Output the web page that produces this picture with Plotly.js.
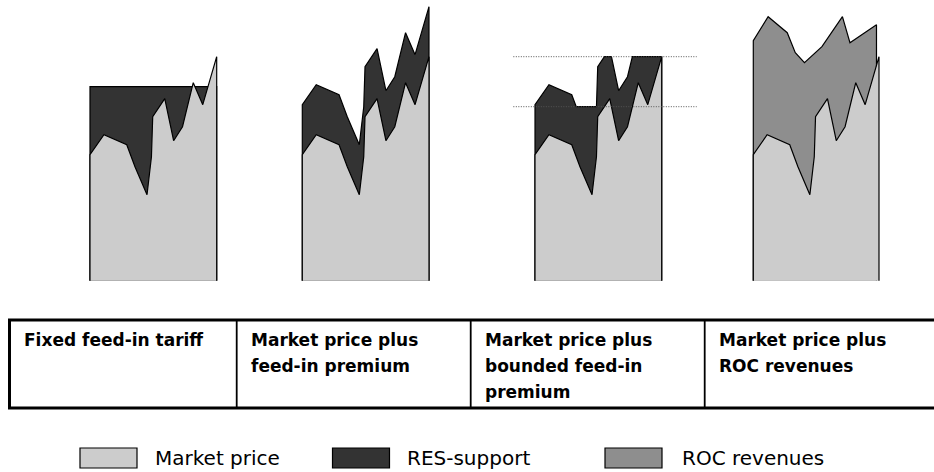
<!DOCTYPE html>
<html>
<head>
<meta charset="utf-8">
<script src="https://cdn.plot.ly/plotly-3.0.1.min.js"></script>
<style>html,body{margin:0;padding:0;background:#fff;}#chart{width:934px;height:472px;}</style>
</head>
<body>
<div id="chart"></div>
<script>
// ---- data ----
const xPos        = [0, 11, 29, 35.5, 45, 48.5, 49.5, 59, 66, 73, 81.5, 89, 100];
const marketPrice = [31.5, 36.5, 34, 28.5, 21.5, 31, 41, 45.5, 35, 38.5, 49.5, 44, 56];
const fixedTariff = 48.5;
const premium     = 12.5;
const premiumFloor = 43.5;
const premiumCap   = 56;
const rocX     = [0, 11.8, 27, 33.4, 40.7, 54.6, 70.9, 76.9, 98];
const rocTotal = [60, 66, 62, 57, 54.5, 58.5, 66, 59.5, 64];
const panelTitles = [
  ["Fixed feed-in tariff"],
  ["Market price plus", "feed-in premium"],
  ["Market price plus", "bounded feed-in", "premium"],
  ["Market price plus", "ROC revenues"]
];
const legendLabels = ["Market price", "RES-support", "ROC revenues"];

// ---- styles ----
const C_MARKET = '#cccccc', C_RES = '#333333', C_ROC = '#8e8e8e';
const W = 934, H = 472;
const FONT = '"DejaVu Sans", Verdana, sans-serif';

function poly(xs, ys, color, xa) {
  return {
    x: [xs[0]].concat(xs, [xs[xs.length - 1]]),
    y: [0].concat(ys, [0]),
    xaxis: xa, yaxis: 'y', mode: 'lines', fill: 'toself', fillcolor: color,
    line: {color: '#000', width: 1.2}, hoverinfo: 'skip', showlegend: false
  };
}
function clampSeries(xs, ys, lo, hi) {
  const ox = [], oy = [];
  const cl = v => Math.min(hi, Math.max(lo, v));
  for (let i = 0; i < xs.length; i++) {
    ox.push(xs[i]); oy.push(cl(ys[i]));
    if (i < xs.length - 1) {
      const cr = [];
      [lo, hi].forEach(L => {
        if ((ys[i] - L) * (ys[i + 1] - L) < 0) {
          const t = (L - ys[i]) / (ys[i + 1] - ys[i]);
          cr.push([t, L]);
        }
      });
      cr.sort((a, b) => a[0] - b[0]);
      cr.forEach(c => { ox.push(xs[i] + c[0] * (xs[i + 1] - xs[i])); oy.push(c[1]); });
    }
  }
  return {x: ox, y: oy};
}

const upperPremium = marketPrice.map(v => v + premium);
const bounded = clampSeries(xPos, upperPremium, premiumFloor, premiumCap);
const lastX = xPos[xPos.length - 1];

const traces = [
  poly([xPos[0], lastX], [fixedTariff, fixedTariff], C_RES, 'x'),
  poly(xPos, marketPrice, C_MARKET, 'x'),
  poly(xPos, upperPremium, C_RES, 'x2'),
  poly(xPos, marketPrice, C_MARKET, 'x2'),
  poly(bounded.x, bounded.y, C_RES, 'x3'),
  poly(xPos, marketPrice, C_MARKET, 'x3'),
  poly(rocX, rocTotal, C_ROC, 'x4'),
  poly(xPos, marketPrice, C_MARKET, 'x4')
];

// pixel position of x=0 and x=100 for each panel, plus range padding
function xaxisFor(px0, px100, r0, r1) {
  const k = (px100 - px0) / 100;
  return {domain: [(px0 + r0 * k) / W, (px0 + r1 * k) / W], range: [r0, r1], visible: false, fixedrange: true};
}
const yTop = 0, yBot = 290, yZero = 280.7, pxPerUnit = 4;
const yaxis = {
  domain: [1 - yBot / H, 1 - yTop / H],
  range: [-(yBot - yZero) / pxPerUnit, (yZero - yTop) / pxPerUnit],
  visible: false, fixedrange: true
};

const py = p => 1 - p / H;
const px = p => p / W;
const shapes = [];
const annotations = [];
// bounded premium dotted lines
[premiumFloor, premiumCap].forEach(v => shapes.push({
  type: 'line', xref: 'x3 domain', yref: 'y', x0: 0, x1: 1, y0: v, y1: v,
  line: {color: '#555', width: 1, dash: '1px,1.5px'}
}));
// table
const tTop = 320, tBot = 408;
shapes.push({type: 'line', xref: 'paper', yref: 'paper', x0: px(8), x1: px(934), y0: py(tTop), y1: py(tTop), line: {color: '#000', width: 3}});
shapes.push({type: 'line', xref: 'paper', yref: 'paper', x0: px(8), x1: px(934), y0: py(tBot), y1: py(tBot), line: {color: '#000', width: 3}});
shapes.push({type: 'line', xref: 'paper', yref: 'paper', x0: px(9.5), x1: px(9.5), y0: py(tTop), y1: py(tBot), line: {color: '#000', width: 3}});
const colLeft = [9.5, 236.7, 470.7, 704.7];
colLeft.slice(1).forEach(c => shapes.push({type: 'line', xref: 'paper', yref: 'paper', x0: px(c), x1: px(c), y0: py(tTop), y1: py(tBot), line: {color: '#000', width: 1.8}}));
panelTitles.forEach((lines, i) => {
  lines.forEach((t, j) => annotations.push({
    xref: 'paper', yref: 'paper', x: px(colLeft[i] + 12.5), y: py(340 + 26 * j),
    xanchor: 'left', yanchor: 'middle', showarrow: false, text: '<b>' + t + '</b>',
    font: {family: FONT, size: 17, color: '#000'}
  }));
});
// legend
const legBox = [[80, 137], [332.5, 389.5], [605, 662]];
const legText = [153, 405, 680];
const legColors = [C_MARKET, C_RES, C_ROC];
legendLabels.forEach((lab, i) => {
  shapes.push({type: 'rect', xref: 'paper', yref: 'paper', x0: px(legBox[i][0]), x1: px(legBox[i][1]), y0: py(448), y1: py(468),
    fillcolor: legColors[i], line: {color: '#000', width: 1.2}});
  annotations.push({xref: 'paper', yref: 'paper', x: px(legText[i]), y: py(458), xanchor: 'left', yanchor: 'middle',
    showarrow: false, text: lab, font: {family: FONT, size: 20, color: '#000'}});
});

const layout = {
  width: W, height: H, margin: {l: 0, r: 0, t: 0, b: 0},
  paper_bgcolor: '#fff', plot_bgcolor: 'rgba(0,0,0,0)', showlegend: false,
  xaxis: Object.assign(xaxisFor(90, 216.7, -2, 102), {anchor: 'y'}),
  xaxis2: Object.assign(xaxisFor(302.3, 429, -2, 102), {anchor: 'y'}),
  xaxis3: Object.assign(xaxisFor(535, 661.7, -17.1, 127.6), {anchor: 'y'}),
  xaxis4: Object.assign(xaxisFor(753.3, 879, -2, 102), {anchor: 'y'}),
  yaxis: yaxis,
  shapes: shapes, annotations: annotations
};
Plotly.newPlot('chart', traces, layout, {staticPlot: true, displayModeBar: false});
</script>
</body>
</html>
